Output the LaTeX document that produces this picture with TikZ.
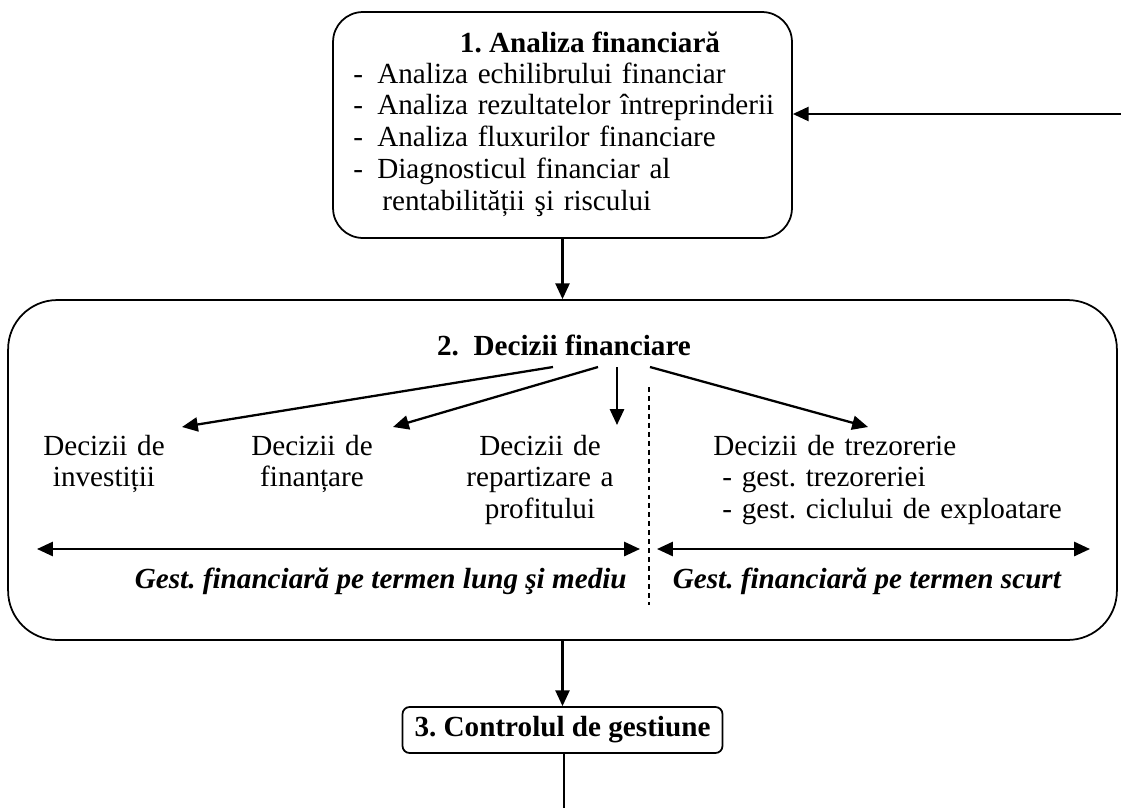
\documentclass[tikz,border=0pt]{standalone}
\usepackage{fontspec}
\setmainfont{Liberation Serif}
\usetikzlibrary{arrows.meta}

\tikzset{
  box/.style={draw, line width=1pt, rounded corners=#1},
  txt/.style={inner sep=0pt, align=left},
  ctxt/.style={inner sep=0pt, align=center, text width=4.6cm, anchor=base},
  conn/.style={line width=1.3pt, -{Triangle[length=9pt,width=8pt]}},
  span/.style={line width=1.3pt, {Triangle[length=9pt,width=8pt]}-{Triangle[length=9pt,width=8pt]}},
}

\begin{document}
\begin{tikzpicture}[x=0.02cm, y=-0.02cm, font=\fontsize{16.6}{18.2}\selectfont\frenchspacing]
		\useasboundingbox (0,0) rectangle (1121,808);

		% Analiza financiara
		\node[box=17pt, minimum width=9.18cm, minimum height=4.52cm] (analiza) at (562.5,125) {};
		\node[txt, anchor=base] (atitle) at (590,52) {\textbf{1. Analiza financiară}};
		\node[txt, anchor=base west, text width=8.8cm] (alist) at (353,83)
			{\makebox[0.48cm][l]{-}Analiza echilibrului financiar\\
			 \makebox[0.48cm][l]{-}Analiza rezultatelor întreprinderii\\
			 \makebox[0.48cm][l]{-}Analiza fluxurilor financiare\\
			 \makebox[0.48cm][l]{-}Diagnosticul financiar al\\
			 \hspace*{0.58cm}rentabilității şi riscului};

		% Decizii financiare
		\node[box=28pt, minimum width=22.18cm, minimum height=6.8cm] (decizii) at (562.5,470) {};
		\node[txt, anchor=base] (dtitle) at (564,355) {\textbf{2.~~Decizii financiare}};
		\node[ctxt] (inv) at (104,455) {Decizii de\\investiții};
		\node[ctxt] (fin) at (312,455) {Decizii de\\finanțare};
		\node[ctxt] (rep) at (540,455) {Decizii de\\repartizare a\\profitului};
		\node[txt, anchor=base west, text width=8cm] (trez) at (713,455)
			{Decizii de trezorerie\\
			 \hspace*{0.18cm}- gest. trezoreriei\\
			 \hspace*{0.18cm}- gest. ciclului de exploatare};

		\draw[conn] ([shift={(-11,12)}]dtitle.base) -- ([shift={(78,-28)}]inv.base);
		\draw[conn] ([shift={(34,12)}]dtitle.base) -- ([shift={(81,-28)}]fin.base);
		\draw[conn] ([shift={(53,12)}]dtitle.base) -- ([shift={(77,-30)}]rep.base);
		\draw[conn] ([shift={(86,12)}]dtitle.base) -- ([shift={(155,-28)}]trez.base west);

		% Termen lung / scurt
		\draw[line width=0.6pt, dash pattern=on 2.8pt off 2.3pt] (649,387) -- (649,605);
		\coordinate (l1) at (37,549);
		\coordinate (l2) at (640,549);
		\coordinate (s1) at (657,549);
		\coordinate (s2) at (1090,549);
		\draw[span] (l1) -- (l2);
		\draw[span] (s1) -- (s2);
		\node[txt, anchor=base east] (lung) at (627,588) {\textbf{\textit{Gest. financiară pe termen lung şi mediu}}};
		\node[txt, anchor=base east] (scurt) at (1062,588) {\textbf{\textit{Gest. financiară pe termen scurt}}};

		% Controlul de gestiune
		\node[box=4pt, minimum width=6.4cm, minimum height=0.92cm] (control) at (562.5,730) {\textbf{3. Controlul de gestiune}};

		% Legaturi
		\coordinate (retur) at (1121,114);
		\coordinate (jos) at (564,808);
		\draw[conn] (retur) -- (retur -| analiza.east);
		\draw[conn] (analiza.south) -- (decizii.north);
		\draw[conn] (decizii.south) -- (control.north);
		\draw[line width=1.3pt] (control.south -| jos) -- (jos);
	\end{tikzpicture}
\end{document}
